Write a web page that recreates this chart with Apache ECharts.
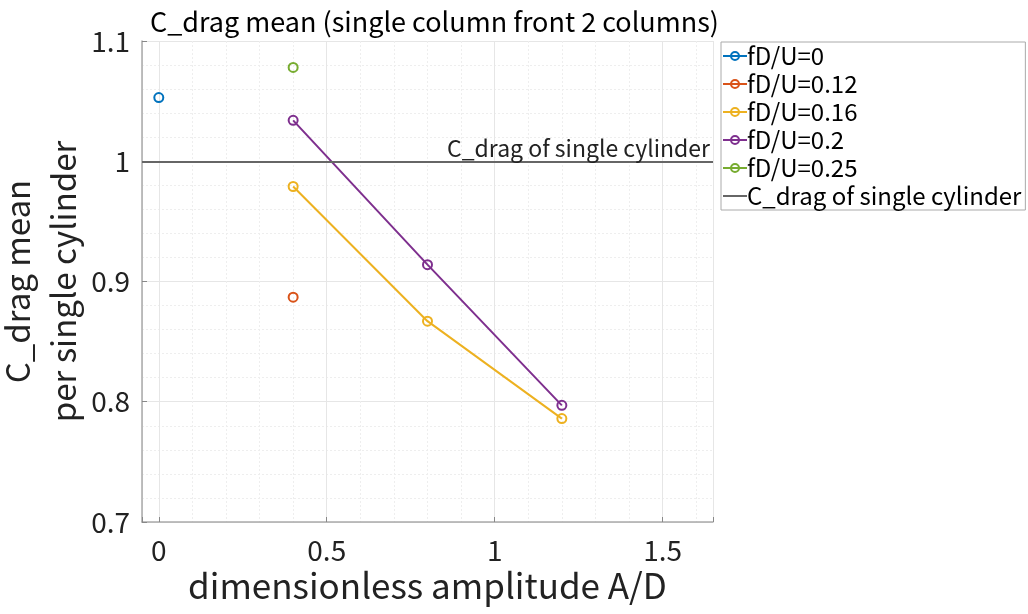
<!DOCTYPE html>
<html>
<head>
<meta charset="utf-8">
<script src="https://cdn.jsdelivr.net/npm/echarts@6/dist/echarts.min.js"></script>
<style>html,body{margin:0;padding:0;background:#fff}#c{width:1028px;height:614px}</style>
</head>
<body>
<div id="c"></div>
<script>
// ---- data ----
const seriesNames = ['fD/U=0', 'fD/U=0.12', 'fD/U=0.16', 'fD/U=0.2', 'fD/U=0.25'];
const x_0 = [0];      const y_0 = [1.053];
const x_012 = [0.4];  const y_012 = [0.887];
const x_016 = [0.4, 0.8, 1.2]; const y_016 = [0.979, 0.867, 0.786];
const x_02 = [0.4, 0.8, 1.2];  const y_02 = [1.034, 0.914, 0.797];
const x_025 = [0.4];  const y_025 = [1.078];
const refName = 'C_drag of single cylinder';
const refValue = 1;
const xRange = [-0.05, 1.65];
const yRange = [0.7, 1.1];

const colors = ['#0072BD', '#D95319', '#EDB120', '#7E2F8E', '#77AC30'];
const FONT = 'Noto Sans CJK JP';

function pairs(xs, ys) { return xs.map((x, i) => [x, ys[i]]); }
const allData = [pairs(x_0, y_0), pairs(x_012, y_012), pairs(x_016, y_016), pairs(x_02, y_02), pairs(x_025, y_025)];

const series = allData.map((d, i) => ({
  name: seriesNames[i],
  type: 'line',
  data: d,
  symbol: 'circle',
  symbolSize: 9,
  showSymbol: true,
  lineStyle: { color: colors[i], width: 2 },
  itemStyle: { color: 'rgba(255,255,255,0)', borderColor: colors[i], borderWidth: 2 },
  emphasis: { disabled: true },
  z: 3
}));
series.push({
  name: refName,
  type: 'line',
  data: [],
  symbol: 'circle',
  symbolSize: 0,
  lineStyle: { color: '#666666', width: 2 },
  itemStyle: { color: 'rgba(0,0,0,0)', borderWidth: 0 },
  markLine: {
    silent: true,
    symbol: 'none',
    lineStyle: { color: '#666666', width: 2, type: 'solid' },
    label: {
      show: true, position: 'insideEndTop', formatter: refName,
      fontFamily: FONT, fontSize: 23, color: '#222', distance: [3, 1]
    },
    data: [{ yAxis: refValue }]
  },
  z: 2
});

const chart = echarts.init(document.getElementById('c'), null, { renderer: 'canvas' });
chart.setOption({
  animation: false,
  backgroundColor: '#fff',
  textStyle: { fontFamily: FONT },
  title: {
    text: 'C_drag mean (single column front 2 columns)',
    left: 145, top: 3,
    textStyle: { fontFamily: FONT, fontSize: 27, fontWeight: 'normal', color: '#000' }
  },
  legend: {
    orient: 'vertical',
    left: 721, top: 42,
    padding: [2, 4, 2, 1],
    itemGap: 4,
    itemWidth: 24,
    itemHeight: 10,
    borderColor: '#aaaaaa', borderWidth: 1,
    backgroundColor: '#fff',
    textStyle: { fontFamily: FONT, fontSize: 24, lineHeight: 24, color: '#000', padding: [0, 0, 0, -5] },
    data: seriesNames.concat([refName])
  },
  grid: { left: 142, right: 315, top: 41, bottom: 92, containLabel: false, outerBoundsMode: 'none' },
  xAxis: {
    type: 'value',
    min: xRange[0], max: xRange[1],
    splitNumber: 4,
    name: 'dimensionless amplitude A/D',
    nameLocation: 'middle', nameGap: 46, nameMoveOverlap: false,
    nameTextStyle: { fontFamily: FONT, fontSize: 35, color: '#222' },
    axisLine: { show: true, onZero: false, lineStyle: { color: '#aaaaaa', width: 1.5 } },
    axisTick: { show: true, inside: true, length: 5, lineStyle: { color: '#888' } },
    axisLabel: {
      fontFamily: FONT, fontSize: 28, color: '#222', margin: 14,
      formatter: v => (Math.abs(v * 2 - Math.round(v * 2)) < 1e-9 ? String(Math.round(v * 2) / 2) : '')
    },
    splitLine: { show: true, lineStyle: { color: '#e6e6e6', width: 1 } },
    minorTick: { show: false, splitNumber: 5 },
    minorSplitLine: { show: true, lineStyle: { color: '#eeeeee', width: 1, type: [2, 2] } }
  },
  yAxis: {
    type: 'value',
    min: yRange[0], max: yRange[1], interval: 0.1,
    name: 'C_drag mean\nper single cylinder',
    nameLocation: 'middle', nameGap: 56, nameMoveOverlap: false,
    nameTextStyle: { fontFamily: FONT, fontSize: 33, color: '#222', lineHeight: 46 },
    axisLine: { show: true, onZero: false, lineStyle: { color: '#aaaaaa', width: 1.5 } },
    axisTick: { show: true, inside: true, length: 5, lineStyle: { color: '#888' } },
    axisLabel: {
      fontFamily: FONT, fontSize: 28, color: '#222', margin: 12,
      formatter: v => String(Math.round(v * 10) / 10)
    },
    splitLine: { show: true, lineStyle: { color: '#e6e6e6', width: 1 } },
    minorTick: { show: false, splitNumber: 5 },
    minorSplitLine: { show: true, lineStyle: { color: '#eeeeee', width: 1, type: [2, 2] } }
  },
  series: series
});
</script>
</body>
</html>
